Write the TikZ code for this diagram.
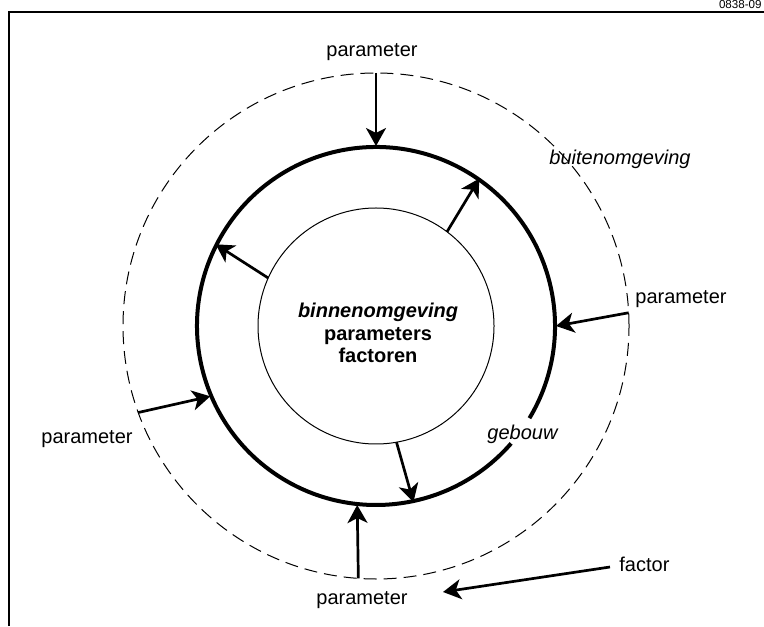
\documentclass[tikz,border=0pt]{standalone}
\usepackage{fontspec}
\setmainfont{Liberation Sans}
\usetikzlibrary{arrows.meta}
\begin{document}
\begin{tikzpicture}[x=0.5pt,y=0.5pt,
  lbl/.style={inner sep=0pt, font=\fontsize{10}{12}\selectfont},
  arr/.style={line width=1.35pt, -{Stealth[length=9pt,width=10pt,inset=2.5pt]}},
  ring/.style={circle, inner sep=0pt, outer sep=0pt}
]
\useasboundingbox (0,0) rectangle (764,626);
% frame
\draw[line width=1pt] (9,0) -- (9,614) -- (764,614);
\node[anchor=base east, inner sep=0pt, font=\fontsize{5.8}{7}\selectfont] (code) at (762,617) {0838-09};
% circles
\coordinate (C) at (376,300);
\node[ring, minimum size=253pt, draw, dash pattern=on 6.5pt off 3.5pt, line width=0.5pt] (outer) at (C) {};
\node[ring, minimum size=118pt, draw, line width=0.5pt] (inner) at (C) {};
\node[ring, minimum size=180pt] (building) at (C) {};
\draw[line width=2pt] (C) ++(-31:179) arc[start angle=-31, end angle=319, radius=179];
% outer arrows
\draw[arr] (outer.90) -- (building.90);
\draw[arr] (outer.3) -- (building.0);
\draw[arr] (outer.200) -- (building.203);
\draw[arr] (outer.266) -- (building.264);
% inner arrows
\draw[arr] (inner.53) -- (building.55);
\draw[arr] (inner.156) -- (building.153);
\draw[arr] (inner.280) -- (building.282);
% factor arrow
\coordinate (fs) at (610,59);
\coordinate (fe) at (443,34);
\draw[arr] (fs) -- (fe);
% labels
\node[lbl, anchor=base] (ptop) at (372,569) {parameter};
\node[lbl, anchor=base west] (pright) at (635,322.6) {parameter};
\node[lbl, anchor=base east] (pleft) at (133,183) {parameter};
\node[lbl, anchor=base] (pbot) at (362,22) {parameter};
\node[lbl, anchor=base west] (factor) at (619,55) {factor};
\node[lbl, anchor=base west] (gebouw) at (487,186) {\itshape gebouw};
\node[lbl, anchor=base] (buiten) at (620,461) {\itshape buitenomgeving};
\node[inner sep=0pt, align=center, font=\fontsize{10}{11.25}\selectfont\bfseries] (binnen) at (378,293) {\textit{binnenomgeving}\\parameters\\factoren};
\end{tikzpicture}
\end{document}
